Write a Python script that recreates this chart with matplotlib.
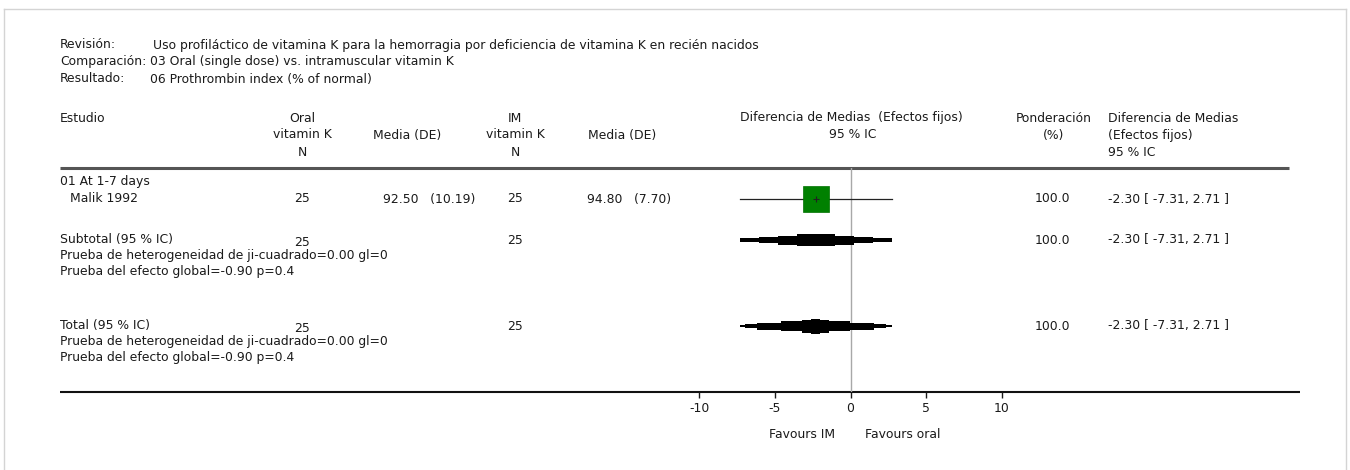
import matplotlib
matplotlib.use("Agg")
import matplotlib.pyplot as plt

plt.rcParams["font.family"] = ["DejaVu Sans"]
plt.rcParams["axes.unicode_minus"] = False

# ---------------- data ----------------
review_title = "Uso profiláctico de vitamina K para la hemorragia por deficiencia de vitamina K en recién nacidos"
comparison = "03 Oral (single dose) vs. intramuscular vitamin K"
outcome = "06 Prothrombin index (% of normal)"
subgroup = "01 At 1-7 days"

study_names = ["Malik 1992"]
oral_n = [25]
oral_mean = [92.50]
oral_sd = [10.19]
im_n = [25]
im_mean = [94.80]
im_sd = [7.70]
study_md = [-2.30]
study_lo = [-7.31]
study_hi = [2.71]
study_weight = [100.0]

subtotal_n = [25, 25]
subtotal_md = [-2.30, -7.31, 2.71]
subtotal_weight = 100.0
subtotal_het = "Prueba de heterogeneidad de ji-cuadrado=0.00 gl=0"
subtotal_eff = "Prueba del efecto global=-0.90 p=0.4"

total_n = [25, 25]
total_md = [-2.30, -7.31, 2.71]
total_weight = 100.0
total_het = "Prueba de heterogeneidad de ji-cuadrado=0.00 gl=0"
total_eff = "Prueba del efecto global=-0.90 p=0.4"

x_ticks = [-10, -5, 0, 5, 10]
favours_left = "Favours IM"
favours_right = "Favours oral"

# ---------------- layout ----------------
W, H = 1350, 470
FS = 8.9
TC = "#1a1a1a"
fig = plt.figure(figsize=(W / 100, H / 100), dpi=100)
fig.patch.set_facecolor("white")

bg = fig.add_axes([0, 0, 1, 1])
bg.set_xlim(0, W)
bg.set_ylim(H, 0)
bg.axis("off")


def txt(x, y, s, ha="left"):
    bg.text(x, y - 1.5, s, ha=ha, va="center_baseline", fontsize=FS, color=TC)


# frame
bc = "#d4d4d4"
bg.plot([4, 1346], [9, 9], color=bc, lw=1)
bg.plot([4, 4], [9, H], color=bc, lw=1)
bg.plot([1346, 1346], [9, H], color=bc, lw=1)

# header block
txt(60, 45, "Revisión:")
txt(60, 62, "Comparación:")
txt(60, 79, "Resultado:")
txt(153, 45, review_title)
txt(150, 62, comparison)
txt(150, 79, outcome)

# column headers
txt(60, 118, "Estudio")
txt(302, 118, "Oral", "center")
txt(302, 135, "vitamin K", "center")
txt(302, 152, "N", "center")
txt(407, 135, "Media (DE)", "center")
txt(515, 118, "IM", "center")
txt(515, 135, "vitamin K", "center")
txt(515, 152, "N", "center")
txt(622, 135, "Media (DE)", "center")
txt(851, 118, "Diferencia de Medias  (Efectos fijos)", "center")
txt(853, 135, "95 % IC", "center")
txt(1054, 118, "Ponderación", "center")
txt(1054, 135, "(%)", "center")
txt(1108, 118, "Diferencia de Medias")
txt(1108, 135, "(Efectos fijos)")
txt(1108, 152, "95 % IC")

bg.plot([60, 1289], [168, 168], color="#555555", lw=2.2, solid_capstyle="butt")
bg.plot([60, 1300], [392, 392], color="#111111", lw=1.5, solid_capstyle="butt")

# ---------------- forest axes ----------------
y_top, y_bot = 168, 392
x_left, x_right = 699, 1002
ax = fig.add_axes([x_left / W, (H - y_bot) / H, (x_right - x_left) / W, (y_bot - y_top) / H])
ax.set_xlim(x_ticks[0], x_ticks[-1])
ax.set_ylim(y_bot, y_top)
ax.patch.set_alpha(0)
for s in ax.spines.values():
    s.set_visible(False)
ax.set_yticks([])
ax.set_xticks(x_ticks)
ax.set_xticklabels([str(t) for t in x_ticks])
ax.tick_params(axis="x", direction="out", length=4, width=1, pad=3,
               labelsize=FS, colors=TC)
ax.axvline(0, color="#a8a8a8", lw=1, zorder=0)


def stepped(est, lo, hi, y, fracs, thick):
    for f, t in zip(fracs, thick):
        ax.fill_between([est - f * (est - lo), est + f * (hi - est)],
                        y - t / 2, y + t / 2, color="black", lw=0, zorder=3)


# subgroup + studies
txt(60, 182, subgroup)
row_y = [199]
for i, y in enumerate(row_y):
    txt(70, y, study_names[i])
    txt(302, y, f"{oral_n[i]}", "center")
    txt(383, y, f"{oral_mean[i]:.2f}   ({oral_sd[i]:.2f})")
    txt(515, y, f"{im_n[i]}", "center")
    txt(587, y, f"{im_mean[i]:.2f}   ({im_sd[i]:.2f})")
    txt(1052, y, f"{study_weight[i]:.1f}", "center")
    txt(1108, y, f"{study_md[i]:.2f} [ {study_lo[i]:.2f}, {study_hi[i]:.2f} ]")
    ax.plot([study_lo[i], study_hi[i]], [y, y], color="#222222", lw=0.9, zorder=2)
    ax.plot([study_md[i]], [y], marker="s", ms=18.5, color="#008000",
            mec="#007000", mew=0.5, zorder=3)
    ax.plot([study_md[i]], [y], marker="+", ms=5, mew=0.8, color="#222222", zorder=4)

# subtotal
ys = 240
txt(60, ys, "Subtotal (95 % IC)")
txt(302, ys + 2, f"{subtotal_n[0]}", "center")
txt(515, ys, f"{subtotal_n[1]}", "center")
txt(1052, ys, f"{subtotal_weight:.1f}", "center")
txt(1108, ys, f"{subtotal_md[0]:.2f} [ {subtotal_md[1]:.2f}, {subtotal_md[2]:.2f} ]")
txt(60, ys + 16, subtotal_het)
txt(60, ys + 32, subtotal_eff)
stepped(subtotal_md[0], subtotal_md[1], subtotal_md[2], ys,
        [1.0, 0.75, 0.5, 0.25], [3.5, 6, 9, 12.5])

# total
yt = 326
txt(60, yt, "Total (95 % IC)")
txt(302, yt + 2, f"{total_n[0]}", "center")
txt(515, yt, f"{total_n[1]}", "center")
txt(1052, yt, f"{total_weight:.1f}", "center")
txt(1108, yt, f"{total_md[0]:.2f} [ {total_md[1]:.2f}, {total_md[2]:.2f} ]")
txt(60, yt + 16, total_het)
txt(60, yt + 32, total_eff)
stepped(total_md[0], total_md[1], total_md[2], yt,
        [1.0, 0.93, 0.77, 0.45, 0.18, 0.06], [2.5, 4, 7, 10, 13, 15])

# favours labels
txt(802, 434, favours_left, "center")
txt(903, 434, favours_right, "center")

fig.savefig("out.png", dpi=100, facecolor="white")
